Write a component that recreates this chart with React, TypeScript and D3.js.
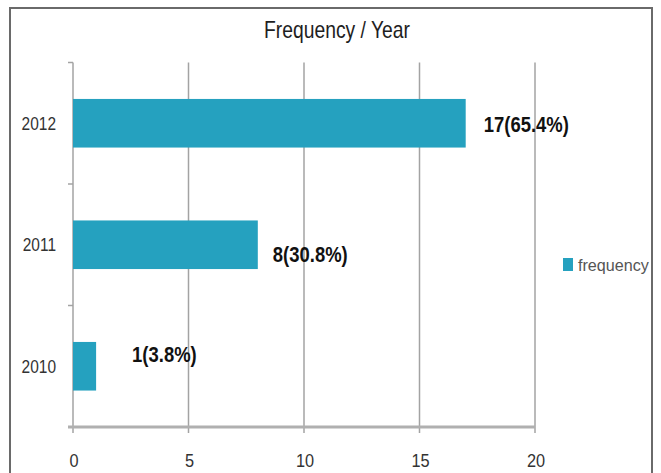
import React from "react";
import * as d3 from "d3";

const years = ["2012", "2011", "2010"];
const frequency = [17, 8, 1];
const percentLabels = ["65.4%", "30.8%", "3.8%"];
const xTicks = [0, 5, 10, 15, 20];
const seriesName = "frequency";
const title = "Frequency / Year";

const W = 661;
const H = 473;
const margin = { left: 73, right: 126, top: 62.5, bottom: 46 };
const font = "'Liberation Sans', Arial, sans-serif";
const barColor = "#25a1bf";
const gridColor = "#a3a3a3";

type NTProps = {
  x: number;
  y: number;
  sx: number;
  anchor?: "start" | "middle" | "end";
  size: number;
  weight?: string;
  fill: string;
  children: React.ReactNode;
};

// Horizontally condensed text, scaled about its anchor point
function NarrowText({ x, y, sx, anchor = "start", size, weight = "normal", fill, children }: NTProps) {
  return (
    <g transform={`translate(${x},${y}) scale(${sx},1)`}>
      <text
        x={0}
        y={0}
        dy="0.35em"
        textAnchor={anchor}
        fontFamily={font}
        fontSize={size}
        fontWeight={weight}
        fill={fill}
      >
        {children}
      </text>
    </g>
  );
}

export default function App() {
  const x = d3.scaleLinear().domain([0, 20]).range([margin.left, W - margin.right]);
  const y = d3
    .scaleBand<string>()
    .domain(years)
    .range([margin.top, H - margin.bottom])
    .paddingInner(0.6)
    .paddingOuter(0.3);
  const plotTop = margin.top;
  const plotBottom = H - margin.bottom;
  const boundaries = d3
    .range(years.length + 1)
    .map((i) => plotTop + (i * (plotBottom - plotTop)) / years.length);
  // small nudges so value labels sit clear of the bars
  const labelDx = [18, 15, 36];
  const labelDy = [1, 10, -12];

  return (
    <svg width={W} height={H} style={{ position: "absolute", left: 0, top: 0, background: "#fff" }}>
      <rect x={10} y={8} width={642} height={480} fill="#fff" stroke="#6a6a6a" strokeWidth={2} />
      <NarrowText x={337} y={30} sx={0.84} anchor="middle" size={23} fill="#1e1e1e">
        {title}
      </NarrowText>

      {/* vertical gridlines */}
      {xTicks.map((t) => (
        <line
          key={"g" + t}
          x1={x(t)}
          x2={x(t)}
          y1={plotTop}
          y2={plotBottom + 6}
          stroke={gridColor}
          strokeWidth={1.5}
        />
      ))}

      {/* left axis tick marks */}
      {boundaries.map((b, i) => (
        <line key={"yt" + i} x1={x(0) - 5} x2={x(0)} y1={b} y2={b} stroke={gridColor} strokeWidth={1.5} />
      ))}

      {/* bars */}
      {frequency.map((v, i) => (
        <rect
          key={"b" + i}
          x={x(0)}
          y={y(years[i])!}
          width={x(v) - x(0)}
          height={y.bandwidth()}
          fill={barColor}
        />
      ))}

      {/* x axis */}
      <line x1={x(0) - 5} x2={x(20)} y1={plotBottom} y2={plotBottom} stroke="#b0b0b0" strokeWidth={3} />

      {/* category labels */}
      {years.map((yr) => (
        <NarrowText
          key={"yl" + yr}
          x={56}
          y={y(yr)! + y.bandwidth() / 2}
          sx={0.86}
          anchor="end"
          size={18}
          fill="#333"
        >
          {yr}
        </NarrowText>
      ))}

      {/* x tick labels */}
      {xTicks.map((t) => (
        <NarrowText
          key={"xl" + t}
          x={x(t) + 1}
          y={plotBottom + 33}
          sx={0.86}
          anchor="middle"
          size={19}
          fill="#333"
        >
          {t}
        </NarrowText>
      ))}

      {/* value labels */}
      {frequency.map((v, i) => (
        <NarrowText
          key={"vl" + i}
          x={x(v) + labelDx[i]}
          y={y(years[i])! + y.bandwidth() / 2 + labelDy[i]}
          sx={0.84}
          size={22}
          weight="bold"
          fill="#111"
        >
          {`${v}(${percentLabels[i]})`}
        </NarrowText>
      ))}

      {/* legend */}
      <rect x={563} y={258} width={10} height={13} fill={barColor} />
      <NarrowText x={578} y={265} sx={0.95} size={17} fill="#555">
        {seriesName}
      </NarrowText>
    </svg>
  );
}
